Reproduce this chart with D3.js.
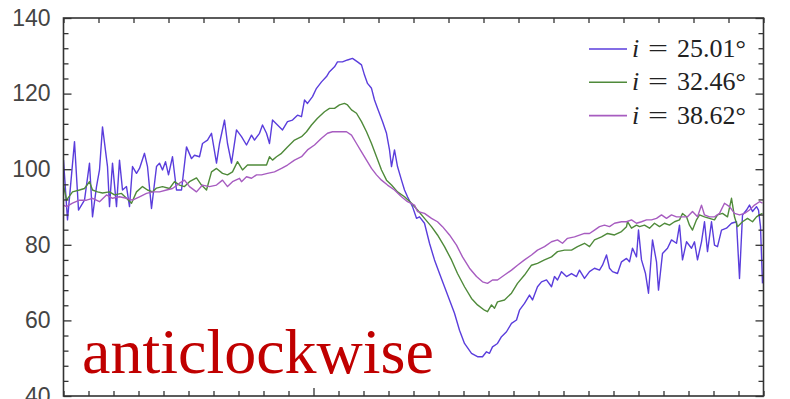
<!DOCTYPE html>
<html><head><meta charset="utf-8">
<script src="https://cdn.jsdelivr.net/npm/d3@7"></script>
<style>html,body{margin:0;padding:0;background:#fff;overflow:hidden}</style>
</head><body>
<svg id="c" width="790" height="399"></svg>
<script>
// y-axis ticks
const yMajor = [40, 60, 80, 100, 120, 140];
const yMinorStep = 4;
// series labels
const seriesNames = ["i = 25.01°", "i = 32.46°", "i = 38.62°"];
const seriesIncl = ["25.01°", "32.46°", "38.62°"];
const annotation = "anticlockwise";

// [phase bin, value]
const s25 = [[0,102.4],[4,86.6],[11,107.3],[15,89.2],[21,91.8],[26,101.6],[29,87.4],[33,95.4],[36,99.8],[39,111.2],[44,100.7],[46,90.1],[49,101.6],[53,90.1],[56,102.4],[59,94.5],[63,95.4],[66,90.1],[69,100.7],[73,98.9],[76,100.2],[81,104.2],[84,100.7],[88,89.6],[93,100.7],[96,101.6],[99,99.8],[102,102.0],[105,98.5],[109,103.3],[113,94.5],[118,94.5],[123,105.9],[128,102.8],[131,103.7],[136,103.3],[139,106.8],[144,107.7],[148,109.5],[153,101.6],[156,106.8],[161,113.0],[164,106.8],[168,101.6],[173,110.4],[178,108.6],[183,106.4],[188,109.0],[191,107.7],[196,109.5],[199,111.7],[203,109.5],[206,106.8],[209,113.0],[214,111.7],[219,110.4],[224,112.6],[229,113.0],[234,114.3],[238,113.9],[241,118.3],[244,117.4],[249,119.2],[253,121.4],[258,123.1],[263,124.5],[266,125.8],[271,127.1],[274,128.4],[279,128.4],[284,128.9],[289,129.3],[294,128.4],[298,127.6],[301,124.9],[304,122.7],[308,121.4],[311,118.3],[314,116.1],[319,112.6],[323,109.5],[326,105.1],[328,100.7],[331,105.1],[334,100.7],[338,97.1],[341,94.5],[344,92.7],[349,90.1],[353,87.0],[356,87.4],[361,85.7],[366,80.4],[371,76.0],[376,72.4],[381,68.9],[386,65.4],[391,61.9],[396,57.4],[401,53.9],[408,51.3],[414,50.4],[419,50.4],[423,51.7],[426,51.3],[429,53.0],[434,53.9],[438,55.7],[443,57.0],[448,59.2],[453,60.1],[456,62.7],[461,64.5],[466,66.7],[469,65.4],[474,68.9],[478,70.2],[483,70.7],[488,68.9],[491,71.6],[494,70.7],[498,72.9],[503,71.6],[508,72.4],[513,71.6],[516,73.3],[521,71.1],[526,72.9],[531,73.8],[536,73.3],[539,74.6],[543,77.3],[546,73.8],[549,72.9],[554,72.4],[558,75.5],[563,76.4],[566,75.5],[569,79.1],[573,76.8],[575,83.9],[578,76.0],[582,72.4],[585,67.2],[589,81.3],[593,75.5],[595,68.0],[599,77.7],[604,79.1],[608,81.3],[613,80.4],[616,85.2],[619,76.0],[623,80.8],[628,79.1],[631,80.8],[634,76.0],[638,80.8],[641,86.1],[644,78.2],[648,86.1],[651,79.9],[654,79.5],[658,83.9],[663,84.4],[668,85.7],[673,86.1],[676,71.1],[679,87.9],[683,89.2],[686,90.5],[689,88.8],[693,90.1],[695,89.2],[697,84.8],[699,69.8]];

const s32 = [[0,95.8],[3,91.8],[9,94.0],[16,94.5],[21,94.9],[26,96.7],[29,94.5],[34,94.0],[39,93.7],[46,94.0],[51,93.2],[58,93.6],[63,92.3],[68,91.0],[73,94.0],[79,95.4],[84,94.5],[89,94.0],[93,95.0],[99,95.4],[106,94.9],[111,96.7],[116,95.8],[121,95.4],[126,96.7],[133,97.7],[138,95.8],[143,94.5],[148,99.3],[153,100.2],[159,98.9],[164,98.5],[169,99.3],[174,102.0],[179,99.8],[184,101.1],[191,101.1],[196,101.1],[203,101.1],[206,103.3],[209,102.4],[213,103.3],[218,104.2],[224,105.9],[231,107.7],[238,108.6],[243,109.9],[248,111.7],[254,113.5],[261,115.2],[266,116.1],[271,116.1],[276,117.0],[281,117.4],[284,117.0],[288,115.7],[293,114.8],[298,112.6],[303,109.9],[308,106.8],[313,103.3],[318,99.8],[323,97.1],[328,95.8],[334,94.0],[341,92.7],[348,91.0],[354,89.2],[361,87.0],[368,84.8],[374,82.6],[381,79.5],[388,76.0],[394,72.4],[401,68.9],[408,65.8],[414,64.1],[421,62.7],[424,62.3],[428,64.1],[431,63.2],[434,64.9],[441,65.4],[448,67.2],[454,69.8],[461,72.0],[468,74.6],[474,75.1],[481,76.0],[488,76.8],[494,78.2],[501,78.6],[508,78.6],[514,79.5],[521,80.4],[526,79.5],[531,81.3],[538,82.1],[544,83.0],[551,82.6],[558,83.5],[563,84.8],[564,86.1],[568,84.4],[573,85.2],[576,84.8],[581,85.2],[586,84.4],[591,85.7],[596,84.8],[601,85.7],[606,85.2],[611,86.1],[616,86.6],[619,88.3],[623,87.4],[626,85.2],[629,83.9],[633,86.6],[636,87.9],[641,87.4],[646,87.0],[651,86.6],[654,87.9],[659,88.3],[664,87.4],[668,92.3],[671,87.4],[674,84.8],[679,86.1],[684,87.0],[689,86.1],[693,87.4],[696,87.9],[699,88.3]];

const s38 = [[0,90.5],[3,90.1],[9,91.0],[16,91.8],[23,91.8],[29,92.3],[36,91.4],[43,93.2],[49,92.3],[56,92.7],[63,92.3],[69,91.8],[76,92.7],[83,93.6],[89,94.0],[96,94.0],[103,94.5],[109,94.9],[116,96.3],[121,97.1],[126,95.4],[133,94.0],[139,95.8],[146,95.4],[153,95.8],[159,97.1],[164,95.4],[169,96.7],[176,97.6],[178,96.7],[183,98.0],[188,97.6],[193,98.5],[198,98.5],[204,98.9],[211,99.3],[218,100.2],[224,101.1],[231,102.4],[238,103.3],[244,105.1],[251,106.4],[258,108.2],[264,109.5],[269,109.9],[276,109.9],[283,109.9],[288,109.0],[293,106.8],[298,104.6],[303,102.4],[308,100.2],[313,98.5],[318,97.1],[324,95.8],[331,94.5],[338,92.7],[344,91.4],[351,90.5],[354,88.8],[361,88.3],[368,87.0],[374,86.1],[379,84.8],[386,82.6],[393,79.9],[399,76.8],[406,73.8],[413,71.6],[419,70.2],[424,69.8],[429,70.7],[434,70.7],[441,72.0],[448,73.3],[454,74.6],[461,76.0],[468,77.3],[474,78.6],[481,79.5],[488,80.8],[494,81.3],[499,80.4],[504,81.7],[511,82.1],[521,83.0],[526,83.0],[531,83.9],[536,84.8],[541,85.2],[546,84.8],[551,85.7],[558,86.1],[563,86.1],[568,86.6],[573,85.7],[578,86.1],[583,86.6],[588,86.6],[593,87.0],[598,87.9],[603,87.0],[608,87.9],[613,87.4],[618,87.4],[624,87.4],[629,88.8],[634,87.4],[638,90.5],[641,87.9],[646,87.4],[651,87.4],[656,88.3],[661,91.0],[666,90.1],[671,88.3],[676,87.9],[681,88.3],[686,89.2],[691,90.5],[696,91.4],[699,91.0]];

const seriesData = [s25, s32, s38];
const colors = ["#5a3ddc", "#4f8a3a", "#a75cc0"];

const svg = d3.select("#c");
const L = 63.5, R = 763.5, T = 18, B = 396;
const x = d3.scaleLinear().domain([0, 700]).range([L, R]);
const y = d3.scaleLinear().domain([40, 140]).range([B, T]);

svg.append("defs").append("clipPath").attr("id", "clip")
  .append("rect").attr("x", L).attr("y", T).attr("width", R - L).attr("height", B - T);

const line = d3.line().x(d => x(d[0])).y(d => y(d[1]));
const g = svg.append("g").attr("clip-path", "url(#clip)");
seriesData.forEach((s, i) => {
  g.append("path").datum(s).attr("d", line)
    .attr("fill", "none").attr("stroke", colors[i])
    .attr("stroke-width", 1.4).attr("stroke-linejoin", "round");
});

const axisColor = "#333";
const minorVals = d3.range(40, 141, yMinorStep).filter(v => v % 20 !== 0);

// Left axis
const left = svg.append("g").attr("transform", `translate(${L},0)`)
  .call(d3.axisLeft(y).tickValues(yMajor).tickSizeInner(-8).tickSizeOuter(0).tickPadding(13));
left.selectAll("text").attr("font-family", "Liberation Sans, Arial, sans-serif")
  .attr("font-size", 23).attr("fill", "#444");
svg.append("g").attr("transform", `translate(${L},0)`)
  .call(d3.axisLeft(y).tickValues(minorVals).tickSizeInner(-5).tickSizeOuter(0).tickFormat(""));
// Right axis
svg.append("g").attr("transform", `translate(${R},0)`)
  .call(d3.axisRight(y).tickValues(yMajor).tickSizeInner(-8).tickSizeOuter(0).tickFormat(""));
svg.append("g").attr("transform", `translate(${R},0)`)
  .call(d3.axisRight(y).tickValues(minorVals).tickSizeInner(-5).tickSizeOuter(0).tickFormat(""));
// Bottom axis
const bottomVals = d3.range(0, 701, 25).filter(v => v !== 250);
svg.append("g").attr("transform", `translate(0,${B})`)
  .call(d3.axisBottom(x).tickValues(bottomVals).tickSizeInner(-5).tickSizeOuter(0).tickFormat(""));
svg.append("g").attr("transform", `translate(0,${B})`)
  .call(d3.axisBottom(x).tickValues([250]).tickSizeInner(-8).tickSizeOuter(0).tickFormat(""));
// Top axis
svg.append("g").attr("transform", `translate(0,${T})`)
  .call(d3.axisTop(x).tickValues(d3.range(0, 701, 35)).tickSizeInner(-5).tickSizeOuter(0).tickFormat(""));

svg.selectAll(".domain").remove();
svg.selectAll(".tick line").attr("stroke", axisColor).attr("stroke-width", 1.3);
svg.append("rect").attr("x", L).attr("y", T).attr("width", R - L).attr("height", B - T)
  .attr("fill", "none").attr("stroke", axisColor).attr("stroke-width", 1.6);

// Legend
const leg = svg.append("g");
seriesIncl.forEach((v, i) => {
  const ly = 49 + i * 33.3;
  leg.append("line").attr("x1", 589).attr("x2", 627).attr("y1", ly).attr("y2", ly)
    .attr("stroke", colors[i]).attr("stroke-width", 1.6);
  const f = "Liberation Serif, Times New Roman, serif";
  leg.append("text").attr("x", 632).attr("y", ly + 8).attr("font-family", f)
    .attr("font-style", "italic").attr("font-size", 26).attr("fill", "#222").text("i");
  leg.append("text").attr("x", 648).attr("y", ly + 8).attr("font-family", f)
    .attr("font-size", 26).attr("fill", "#222")
    .attr("textLength", 20).attr("lengthAdjust", "spacingAndGlyphs").text("=");
  leg.append("text").attr("x", 677).attr("y", ly + 8).attr("font-family", f)
    .attr("font-size", 26).attr("fill", "#222").text(v);
});

// Annotation
svg.append("text").attr("x", 82).attr("y", 373)
  .attr("font-family", "Liberation Serif, Times New Roman, serif")
  .attr("font-size", 64).attr("fill", "#c00000").text(annotation);
</script>
</body></html>
